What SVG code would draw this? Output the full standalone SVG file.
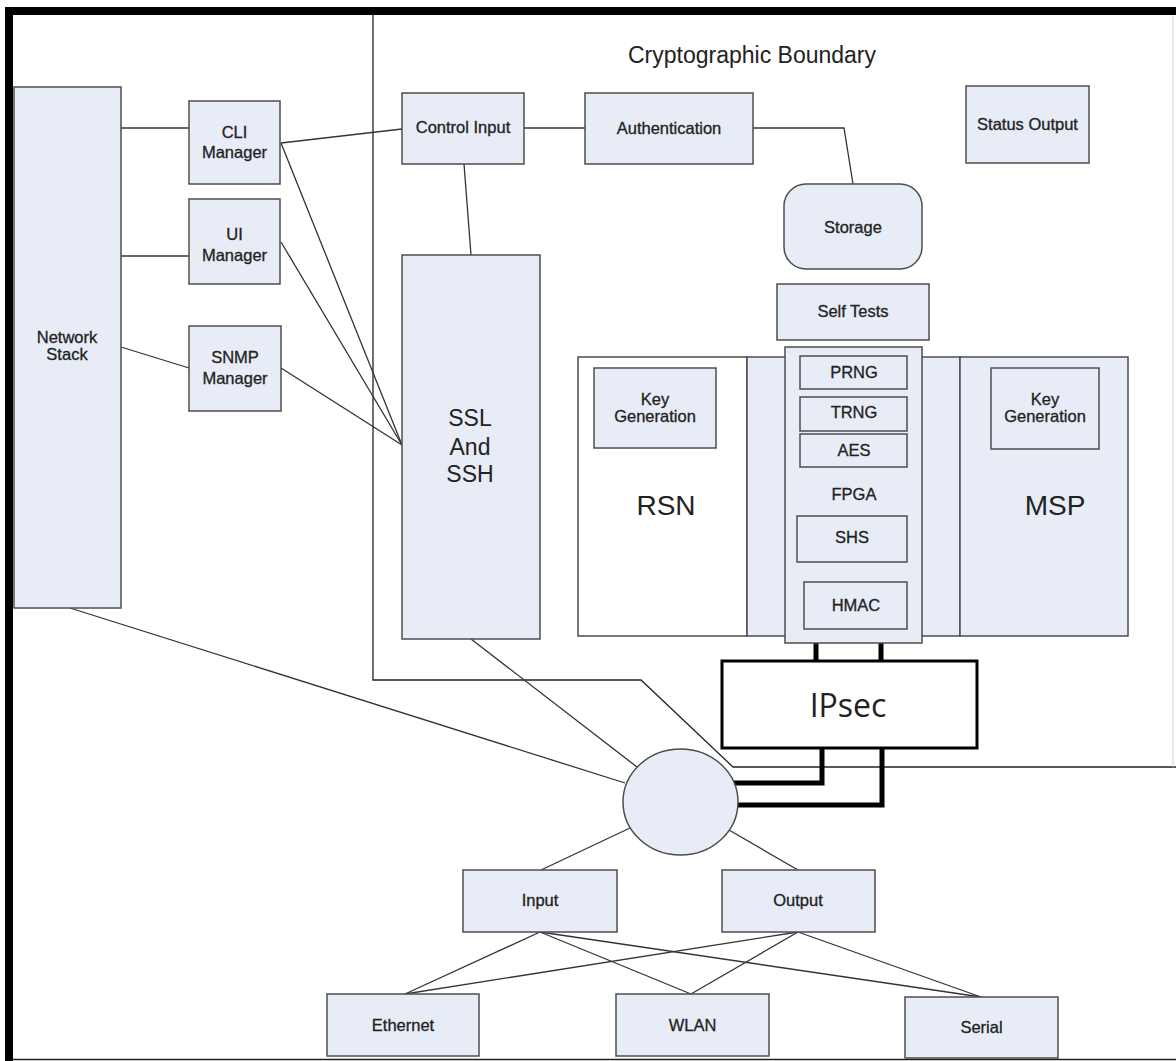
<svg xmlns="http://www.w3.org/2000/svg" width="1176" height="1061" viewBox="0 0 1176 1061">
<style>
.n{fill:#e7ecf6;stroke:#4d4d4d;stroke-width:1.5}
.w{fill:#ffffff;stroke:#4d4d4d;stroke-width:1.5}
.c{fill:none;stroke:#333;stroke-width:1.3}
.k{fill:none;stroke:#000;stroke-width:5}
text{font-family:"Liberation Sans",Arial,sans-serif;fill:#222;text-anchor:middle}
.t{font-size:16.5px;stroke:#222;stroke-width:0.3}
.big{font-size:28px}
.mid{font-size:23px}
</style>
<rect width="1176" height="1061" fill="#fff"/>
<g id="frame">
<line x1="9" y1="7" x2="9" y2="1061" stroke="#000" stroke-width="8"/>
<line x1="5" y1="11" x2="1176" y2="11" stroke="#000" stroke-width="8"/>
<line x1="13" y1="1059.5" x2="1176" y2="1059.5" stroke="#222" stroke-width="1.5"/>
</g>
<g id="boundary">
<polyline points="373,15 373,680 641,680 733,767 1176,767" fill="none" stroke="#222" stroke-width="1.3"/>
<line x1="1173" y1="15" x2="1173" y2="767" stroke="#d8d8d8" stroke-width="1.2"/>
<text x="752" y="63" class="mid">Cryptographic Boundary</text>
</g>
<g id="connectors">
<line class="c" x1="121" y1="128" x2="189" y2="128"/>
<line class="c" x1="121" y1="256" x2="189" y2="256"/>
<line class="c" x1="121" y1="347" x2="189" y2="368"/>
<line class="c" x1="281" y1="143" x2="402" y2="129"/>
<line class="c" x1="281" y1="143" x2="402" y2="445"/>
<line class="c" x1="281" y1="242" x2="402" y2="445"/>
<line class="c" x1="281" y1="368" x2="402" y2="445"/>
<line class="c" x1="524" y1="128" x2="585" y2="128"/>
<polyline class="c" points="753,128 844,128 853,184"/>
<line class="c" x1="464" y1="164" x2="471" y2="255"/>
<line class="c" x1="70" y1="608" x2="625" y2="783"/>
<line class="c" x1="471" y1="639" x2="637" y2="767"/>
<line class="c" x1="630" y1="828" x2="541" y2="870"/>
<line class="c" x1="729" y1="830" x2="798" y2="870"/>
<line class="c" x1="540" y1="932" x2="405" y2="994"/>
<line class="c" x1="540" y1="932" x2="691" y2="994"/>
<line class="c" x1="540" y1="932" x2="981" y2="997"/>
<line class="c" x1="798" y1="932" x2="405" y2="994"/>
<line class="c" x1="798" y1="932" x2="691" y2="994"/>
<line class="c" x1="798" y1="932" x2="981" y2="997"/>
<line class="k" x1="816" y1="642" x2="816" y2="661"/>
<line class="k" x1="881" y1="642" x2="881" y2="661"/>
<polyline class="k" points="822,748 822,783 734,783"/>
<polyline class="k" points="882,748 882,805 737,805"/>
</g>
<g id="network-stack"><rect class="n" x="14" y="87" width="107" height="521"/><text class="t" x="67" y="343">Network</text><text class="t" x="67" y="360">Stack</text></g>
<g id="cli-manager"><rect class="n" x="189" y="101" width="91" height="83"/><text class="t" x="234.5" y="138">CLI</text><text class="t" x="234.5" y="158">Manager</text></g>
<g id="ui-manager"><rect class="n" x="189" y="199" width="91" height="85"/><text class="t" x="234.5" y="240">UI</text><text class="t" x="234.5" y="261">Manager</text></g>
<g id="snmp-manager"><rect class="n" x="189" y="326" width="92" height="85"/><text class="t" x="235" y="363">SNMP</text><text class="t" x="235" y="384">Manager</text></g>
<g id="control-input"><rect class="n" x="402" y="93" width="122" height="71"/><text class="t" x="463" y="133">Control Input</text></g>
<g id="authentication"><rect class="n" x="585" y="93" width="168" height="71"/><text class="t" x="669" y="134">Authentication</text></g>
<g id="status-output"><rect class="n" x="966" y="86" width="123" height="77"/><text class="t" x="1027.5" y="130">Status Output</text></g>
<g id="storage"><rect class="n" x="784" y="184" width="138" height="85" rx="22" ry="22"/><text class="t" x="853" y="233">Storage</text></g>
<g id="self-tests"><rect class="n" x="777" y="284" width="152" height="56"/><text class="t" x="853" y="317">Self Tests</text></g>
<g id="ssl-ssh"><rect class="n" x="402" y="255" width="138" height="384"/><text class="mid" x="470" y="426">SSL</text><text class="mid" x="470" y="455">And</text><text class="mid" x="470" y="482">SSH</text></g>
<g id="rsn"><rect class="w" x="578" y="357" width="169" height="279"/><text class="big" x="666" y="515">RSN</text></g>
<g id="fpga-backing"><rect class="n" x="747" y="357" width="213" height="279"/></g>
<g id="msp"><rect class="n" x="960" y="357" width="168" height="279"/><text class="big" x="1055" y="515">MSP</text></g>
<g id="keygen-rsn"><rect class="n" x="594" y="368" width="122" height="80"/><text class="t" x="655" y="405">Key</text><text class="t" x="655" y="422">Generation</text></g>
<g id="keygen-msp"><rect class="n" x="991" y="368" width="108" height="81"/><text class="t" x="1045" y="405">Key</text><text class="t" x="1045" y="422">Generation</text></g>
<g id="fpga"><rect class="n" x="785" y="347" width="137" height="296"/><text class="t" x="854" y="500">FPGA</text></g>
<g id="prng"><rect class="n" x="800" y="356" width="107" height="33"/><text class="t" x="854" y="378">PRNG</text></g>
<g id="trng"><rect class="n" x="800" y="397" width="107" height="34"/><text class="t" x="854" y="418">TRNG</text></g>
<g id="aes"><rect class="n" x="800" y="434" width="107" height="33"/><text class="t" x="854" y="456">AES</text></g>
<g id="shs"><rect class="n" x="797" y="516" width="110" height="46"/><text class="t" x="852" y="543">SHS</text></g>
<g id="hmac"><rect class="n" x="804" y="582" width="103" height="47"/><text class="t" x="856" y="611">HMAC</text></g>
<g id="ipsec"><rect x="722" y="661" width="255" height="87" fill="#fff" stroke="#000" stroke-width="3"/><text x="848" y="717" style="font-family:'Open Sans','Liberation Sans',sans-serif;font-size:32px">IPsec</text></g>
<g id="hub"><ellipse cx="680.5" cy="802" rx="57.5" ry="53" class="n"/></g>
<g id="input"><rect class="n" x="463" y="870" width="154" height="62"/><text class="t" x="540" y="906">Input</text></g>
<g id="output"><rect class="n" x="722" y="870" width="153" height="62"/><text class="t" x="798" y="906">Output</text></g>
<g id="ethernet"><rect class="n" x="327" y="994" width="152" height="62"/><text class="t" x="403" y="1031">Ethernet</text></g>
<g id="wlan"><rect class="n" x="616" y="994" width="153" height="62"/><text class="t" x="692.5" y="1031">WLAN</text></g>
<g id="serial"><rect class="n" x="905" y="997" width="153" height="61"/><text class="t" x="981.5" y="1033">Serial</text></g>
</svg>
